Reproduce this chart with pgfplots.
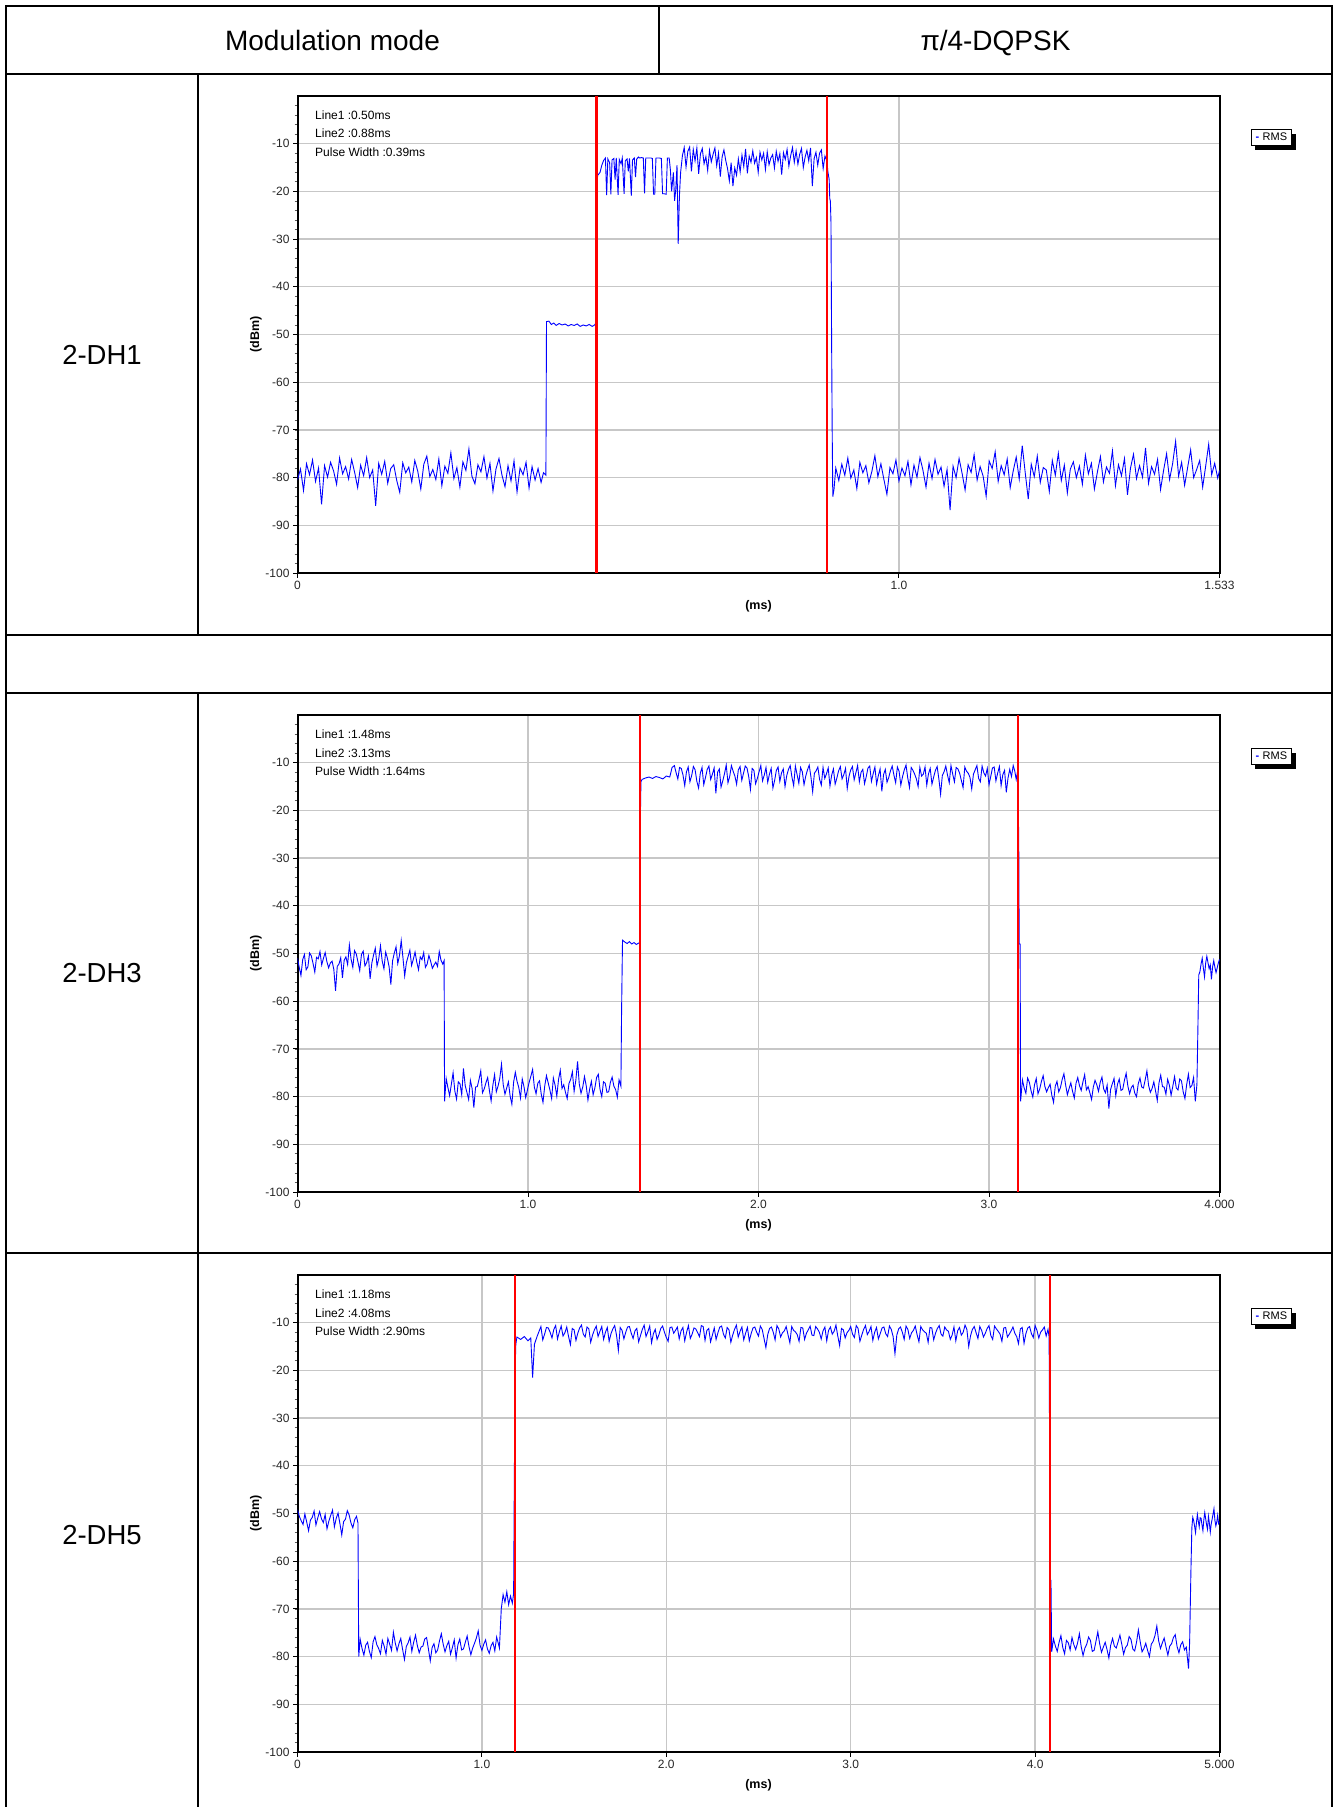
\documentclass[border=0pt]{standalone}
\usepackage{fontspec}
\setmainfont{Liberation Sans}
\usepackage{pgfplots}
\pgfplotsset{compat=1.18}
\usetikzlibrary{shadows}

\pgfplotsset{
  scopeax/.style={
    scale only axis, width=922pt, height=477pt,
    ymin=-100, ymax=0,
    ytick={-100,-90,-80,-70,-60,-50,-40,-30,-20,-10},
    yticklabels={-100,-90,-80,-70,-60,-50,-40,-30,-20,-10},
    minor ytick={-98,-96,...,-2},
    ytick pos=left, xtick pos=bottom,
    tick align=outside,
    major tick length=4.5pt, minor tick length=3pt,
    major tick style={black, line width=1pt},
    minor tick style={black!65, line width=0.8pt},
    grid=major,
    major grid style={draw=black!22, line width=1.3pt},
    axis line style={line width=2pt, black},
    tick label style={font=\fontsize{12}{14}\selectfont, text=black!85},
    xlabel={\textbf{(ms)}}, ylabel={\textbf{(dBm)}},
    label style={font=\fontsize{12.5}{14}\selectfont},
    xlabel style={at={(axis description cs:0.5,-0.0695)}, anchor=center},
    ylabel style={at={(axis description cs:-0.0452,0.5)}, anchor=center},
    legend style={at={(axis description cs:1,1)}, anchor=north west,
      xshift=31pt, yshift=-33pt, draw=black, line width=1pt, fill=white,
      font=\fontsize{11}{12}\selectfont, inner xsep=2.5pt, inner ysep=1.5pt,
      drop shadow={shadow xshift=4pt, shadow yshift=-4pt, fill=black, opacity=1},
      cells={anchor=west},
      /tikz/every odd column/.append style={column sep=0pt}},
    legend image code/.code={},
  },
  trace/.style={blue, line width=0.9pt, mark=none},
  marker/.style={red, line width=2.2pt, mark=none, forget plot},
}

\newcommand{\rmsentry}{\addlegendentry{\textcolor{blue}{\textbf{-}}\hspace{3.5pt}RMS}}

\newcommand{\ann}[3]{%
  \node[anchor=west, inner sep=0pt, font=\fontsize{12}{14}\selectfont] at (axis description cs:0,1) [xshift=17.5pt, yshift=-19pt] {#1};
  \node[anchor=west, inner sep=0pt, font=\fontsize{12}{14}\selectfont] at (axis description cs:0,1) [xshift=17.5pt, yshift=-37.7pt] {#2};
  \node[anchor=west, inner sep=0pt, font=\fontsize{12}{14}\selectfont] at (axis description cs:0,1) [xshift=17.5pt, yshift=-56.3pt] {#3};
}

\begin{document}
\begin{tikzpicture}
\path[use as bounding box] (0pt,0pt) rectangle (1338pt,-1807pt);

% ---------- table ----------
\begin{scope}[line cap=rect]
\draw[line width=2.3pt] (6pt,-6pt) -- (1332pt,-6pt);
\draw[line width=2.3pt] (6pt,-74pt) -- (1332pt,-74pt);
\draw[line width=2.3pt] (6pt,-635pt) -- (1332pt,-635pt);
\draw[line width=2.3pt] (6pt,-693pt) -- (1332pt,-693pt);
\draw[line width=2.3pt] (6pt,-1253pt) -- (1332pt,-1253pt);
\draw[line width=1.8pt] (6pt,-6pt) -- (6pt,-1807pt);
\draw[line width=1.8pt] (1332pt,-6pt) -- (1332pt,-1807pt);
\draw[line width=1.5pt] (659pt,-6pt) -- (659pt,-74pt);
\draw[line width=1.8pt] (198pt,-74pt) -- (198pt,-635pt);
\draw[line width=1.8pt] (198pt,-693pt) -- (198pt,-1807pt);
\end{scope}

\node[anchor=base, font=\fontsize{28}{30}\selectfont] at (332.5pt,-50pt) {Modulation mode};
\node[anchor=base, font=\fontsize{28}{30}\selectfont] at (995.5pt,-50pt) {π/4-DQPSK};
\node[font=\fontsize{27.5}{30}\selectfont] at (102pt,-354.5pt) {2-DH1};
\node[font=\fontsize{27.5}{30}\selectfont] at (102pt,-973pt) {2-DH3};
\node[font=\fontsize{27.5}{30}\selectfont] at (102pt,-1535pt) {2-DH5};

% ---------- 2-DH1 ----------
\begin{axis}[scopeax, at={(297.5pt,-573pt)}, anchor=south west,
  xmin=0, xmax=1.533, xtick={0,1,1.533}, xticklabels={0,1.0,1.533}]
\addplot[trace] coordinates {
(0.000,-80.5) (0.005,-78.2) (0.010,-82.7) (0.015,-77.1) (0.020,-79.4) (0.025,-76.3) (0.030,-80.8) (0.035,-78.0) (0.040,-85.6) (0.045,-77.5)
(0.050,-79.9) (0.055,-76.8) (0.060,-78.6) (0.065,-81.4) (0.070,-75.9) (0.075,-79.2) (0.080,-77.7) (0.085,-80.3) (0.090,-76.2) (0.095,-78.9)
(0.100,-82.1) (0.105,-77.4) (0.110,-79.6) (0.115,-75.8) (0.120,-80.0) (0.125,-78.4) (0.130,-85.9) (0.135,-77.0) (0.140,-79.3) (0.145,-76.6)
(0.150,-81.2) (0.155,-78.1) (0.160,-77.3) (0.165,-80.6) (0.170,-83.1) (0.175,-76.9) (0.180,-79.0) (0.185,-77.8) (0.190,-80.9) (0.195,-76.4)
(0.200,-78.7) (0.205,-82.4) (0.210,-77.2) (0.215,-75.5) (0.220,-79.8) (0.225,-78.3) (0.230,-80.4) (0.235,-76.1) (0.240,-81.7) (0.245,-77.6)
(0.250,-79.1) (0.255,-74.8) (0.260,-80.2) (0.265,-77.9) (0.270,-82.0) (0.275,-76.7) (0.280,-78.5) (0.285,-74.0) (0.290,-79.7) (0.295,-81.3)
(0.300,-77.3) (0.305,-78.8) (0.310,-75.6) (0.315,-80.1) (0.320,-77.0) (0.325,-82.8) (0.330,-78.2) (0.335,-76.0) (0.340,-79.5) (0.345,-81.9)
(0.350,-77.5) (0.355,-80.7) (0.360,-76.5) (0.365,-83.0) (0.370,-78.0) (0.375,-79.4) (0.380,-76.8) (0.385,-82.2) (0.390,-77.7) (0.395,-80.5)
(0.400,-78.1) (0.405,-81.0) (0.409,-79.0) (0.413,-79.5) (0.414,-47.3)
(0.418,-47.2) (0.422,-47.9) (0.426,-47.6) (0.430,-48.1) (0.435,-47.7) (0.440,-48.0) (0.445,-47.8) (0.450,-48.2) (0.455,-47.9) (0.460,-48.1)
(0.465,-47.8) (0.470,-48.3) (0.475,-48.0) (0.480,-48.2) (0.485,-47.9) (0.490,-48.3) (0.494,-48.0) (0.496,-47.6) (0.497,-35.0) (0.498,-20.0) (0.499,-16.5)
(0.500,-16.5) (0.503,-16.0) (0.506,-14.5) (0.509,-13.5) (0.512,-13.0) (0.514,-20.8) (0.516,-13.2) (0.519,-14.0) (0.521,-20.6) (0.523,-13.4)
(0.526,-13.1) (0.528,-17.5) (0.530,-13.0) (0.533,-20.7) (0.535,-13.3) (0.538,-14.2) (0.540,-13.0) (0.543,-20.5) (0.545,-13.6) (0.548,-13.2)
(0.550,-15.8) (0.552,-13.1) (0.555,-20.9) (0.557,-13.4) (0.560,-13.0) (0.562,-17.0) (0.564,-13.2) (0.567,-12.8) (0.569,-13.0) (0.572,-12.9)
(0.575,-13.0) (0.577,-20.4) (0.579,-13.0) (0.582,-13.0) (0.585,-13.0) (0.588,-13.0) (0.590,-13.1) (0.592,-20.6) (0.594,-20.6) (0.596,-13.0)
(0.599,-13.0) (0.602,-13.0) (0.605,-13.1) (0.607,-20.5) (0.610,-20.5) (0.613,-20.6) (0.615,-13.0) (0.618,-13.0) (0.620,-15.5) (0.622,-20.0)
(0.625,-16.0) (0.627,-22.0) (0.629,-19.5) (0.631,-14.5) (0.633,-31.0) (0.635,-21.0) (0.637,-16.0)
(0.640,-12.5) (0.643,-10.8) (0.646,-14.9) (0.649,-11.6) (0.652,-10.7) (0.655,-15.8) (0.658,-11.2) (0.661,-13.6) (0.664,-10.9) (0.667,-16.3)
(0.670,-12.1) (0.673,-11.0) (0.676,-14.2) (0.679,-12.7) (0.682,-15.6) (0.685,-11.4) (0.688,-13.8) (0.691,-12.2) (0.694,-10.9) (0.697,-14.6)
(0.700,-12.0) (0.703,-16.9) (0.706,-12.8) (0.709,-11.3) (0.712,-13.5) (0.715,-15.2) (0.718,-17.8) (0.721,-14.0) (0.724,-18.9) (0.727,-15.1)
(0.730,-16.6) (0.733,-13.2) (0.736,-15.9) (0.739,-12.4) (0.742,-14.8) (0.745,-11.1) (0.748,-16.2) (0.751,-12.6) (0.754,-13.9) (0.757,-11.5)
(0.760,-14.1) (0.763,-12.9) (0.766,-16.0) (0.769,-11.8) (0.772,-13.4) (0.775,-12.0) (0.778,-15.4) (0.781,-11.7) (0.784,-14.4) (0.787,-13.0)
(0.790,-12.3) (0.793,-15.1) (0.796,-11.6) (0.799,-13.7) (0.802,-12.1) (0.805,-16.5) (0.808,-11.9) (0.811,-13.3) (0.814,-11.2) (0.817,-14.7)
(0.820,-12.5) (0.823,-10.8) (0.826,-13.9) (0.829,-11.5) (0.832,-14.3) (0.835,-12.2) (0.838,-11.0) (0.841,-15.0) (0.844,-12.8) (0.847,-11.4)
(0.850,-13.6) (0.853,-10.9) (0.856,-18.9) (0.859,-13.1) (0.862,-11.8) (0.865,-14.5) (0.868,-12.0) (0.871,-11.3) (0.874,-15.2) (0.877,-12.6)
(0.880,-13.5) (0.882,-16.0) (0.884,-17.5) (0.885,-21.5) (0.886,-22.0) (0.887,-26.5) (0.888,-50.0) (0.889,-70.0) (0.890,-84.0)
(0.892,-82.5) (0.895,-78.0) (0.900,-80.6) (0.905,-77.2) (0.910,-79.5) (0.915,-75.9) (0.920,-80.1) (0.925,-78.4) (0.930,-82.3) (0.935,-76.8)
(0.940,-79.0) (0.945,-77.5) (0.950,-81.1) (0.955,-78.7) (0.960,-75.4) (0.965,-79.8) (0.970,-77.1) (0.975,-80.4) (0.980,-83.5) (0.985,-77.9)
(0.990,-79.2) (0.995,-76.3) (1.000,-80.7) (1.005,-78.0) (1.010,-79.6) (1.015,-76.6) (1.020,-81.5) (1.025,-77.4) (1.030,-79.9) (1.035,-75.8)
(1.040,-78.5) (1.045,-82.0) (1.050,-77.0) (1.055,-80.2) (1.060,-76.2) (1.065,-79.3) (1.070,-77.8) (1.075,-81.8) (1.080,-78.3) (1.085,-86.8)
(1.090,-77.6) (1.095,-80.0) (1.100,-76.0) (1.105,-79.1) (1.110,-82.6) (1.115,-77.3) (1.120,-78.9) (1.125,-75.2) (1.130,-80.5) (1.135,-77.7)
(1.140,-79.7) (1.145,-83.9) (1.150,-76.5) (1.155,-78.1) (1.160,-74.6) (1.165,-80.8) (1.170,-77.5) (1.175,-79.4) (1.180,-76.1) (1.185,-82.1)
(1.190,-78.6) (1.195,-75.7) (1.200,-80.3) (1.205,-73.3) (1.210,-79.0) (1.215,-84.5) (1.220,-77.2) (1.225,-79.8) (1.230,-75.5) (1.235,-81.0)
(1.240,-77.9) (1.245,-78.4) (1.250,-82.9) (1.255,-76.4) (1.260,-79.5) (1.265,-74.9) (1.270,-80.6) (1.275,-77.4) (1.280,-83.2) (1.285,-78.2)
(1.290,-76.7) (1.295,-80.0) (1.300,-77.6) (1.305,-81.4) (1.310,-75.3) (1.315,-79.2) (1.320,-77.0) (1.325,-82.4) (1.330,-78.8) (1.335,-75.6)
(1.340,-80.9) (1.345,-77.8) (1.350,-79.1) (1.355,-74.4) (1.360,-81.7) (1.365,-77.3) (1.370,-79.6) (1.375,-76.0) (1.380,-83.6) (1.385,-78.0)
(1.390,-75.1) (1.395,-80.2) (1.400,-77.5) (1.405,-79.9) (1.410,-73.8) (1.415,-81.2) (1.420,-77.7) (1.425,-79.3) (1.430,-76.2) (1.435,-82.5)
(1.440,-78.5) (1.445,-75.0) (1.450,-80.4) (1.455,-77.1) (1.460,-72.4) (1.465,-79.7) (1.470,-76.8) (1.475,-81.6) (1.480,-77.9) (1.485,-74.2)
(1.490,-80.0) (1.495,-78.3) (1.500,-76.4) (1.505,-82.0) (1.510,-77.6) (1.515,-73.0) (1.520,-79.4) (1.525,-77.0) (1.530,-80.1) (1.533,-78.5)
};
\rmsentry
\addplot[marker] coordinates {(0.497,-100) (0.497,0)};
\addplot[marker] coordinates {(0.881,-100) (0.881,0)};
\ann{Line1 :0.50ms}{Line2 :0.88ms}{Pulse Width :0.39ms}
\end{axis}

% ---------- 2-DH3 ----------
\begin{axis}[scopeax, at={(297.5pt,-1192pt)}, anchor=south west,
  xmin=0, xmax=4, xtick={0,1,2,3,4}, xticklabels={0,1.0,2.0,3.0,4.000}]
\addplot[trace] coordinates {
(0.000,-51.0) (0.0075,-52.9) (0.015,-54.6) (0.0225,-51.3) (0.030,-50.2) (0.0375,-53.4) (0.045,-52.8) (0.0525,-49.9) (0.060,-50.5) (0.0675,-52.1)
(0.075,-53.9) (0.0825,-50.8) (0.090,-51.1) (0.0975,-49.6) (0.105,-52.4) (0.1125,-51.0) (0.120,-49.8) (0.1275,-51.7) (0.135,-53.0) (0.1425,-52.0)
(0.150,-51.6) (0.1575,-53.3) (0.165,-57.8) (0.1725,-52.7) (0.180,-52.2) (0.1875,-50.9) (0.195,-55.1) (0.2025,-51.4) (0.210,-50.7) (0.2175,-52.3)
(0.225,-48.2) (0.2325,-51.2) (0.240,-52.9) (0.2475,-49.4) (0.255,-50.1) (0.2625,-51.8) (0.270,-53.6) (0.2775,-50.2) (0.285,-49.5) (0.2925,-52.6)
(0.300,-51.9) (0.3075,-50.5) (0.315,-55.3) (0.3225,-52.0) (0.330,-50.3) (0.3375,-48.9) (0.345,-52.6) (0.3525,-51.1) (0.360,-48.4) (0.3675,-51.6)
(0.375,-53.2) (0.3825,-49.7) (0.390,-51.0) (0.3975,-52.8) (0.405,-56.5) (0.4125,-51.5) (0.420,-49.9) (0.4275,-48.6) (0.435,-52.1) (0.4425,-50.4)
(0.450,-47.3) (0.4575,-50.9) (0.465,-54.7) (0.4725,-51.9) (0.480,-50.6) (0.4875,-49.3) (0.495,-52.5) (0.5025,-51.2) (0.510,-49.7) (0.5175,-51.8)
(0.525,-53.4) (0.5325,-50.7) (0.540,-51.3) (0.5475,-49.8) (0.555,-52.9) (0.5625,-52.2) (0.570,-50.4) (0.5775,-51.6) (0.585,-53.1) (0.5925,-52.4)
(0.600,-51.8) (0.6075,-52.7) (0.615,-49.6) (0.6225,-51.4) (0.630,-52.2) (0.636,-51.5) (0.638,-81.0)
(0.645,-76.2) (0.6525,-78.1) (0.660,-79.8) (0.6675,-77.4) (0.675,-75.0) (0.6825,-78.8) (0.690,-80.5) (0.6975,-76.9) (0.705,-77.3) (0.7125,-79.6)
(0.720,-74.1) (0.7275,-77.7) (0.735,-79.1) (0.7425,-80.6) (0.750,-76.6) (0.7575,-78.3) (0.765,-82.3) (0.7725,-78.0) (0.780,-77.9) (0.7875,-76.4)
(0.795,-74.6) (0.8025,-79.2) (0.810,-78.4) (0.8175,-77.1) (0.825,-76.0) (0.8325,-78.7) (0.840,-80.9) (0.8475,-77.6) (0.855,-75.4) (0.8625,-79.0)
(0.870,-77.8) (0.8775,-76.2) (0.885,-73.2) (0.8925,-77.5) (0.900,-79.5) (0.9075,-78.2) (0.915,-76.9) (0.9225,-79.9) (0.930,-81.6) (0.9375,-77.0)
(0.945,-74.9) (0.9525,-76.8) (0.960,-78.1) (0.9675,-80.3) (0.975,-76.3) (0.9825,-77.9) (0.990,-80.2) (0.9975,-78.6) (1.005,-77.0) (1.0125,-75.7)
(1.020,-74.3) (1.0275,-78.0) (1.035,-79.4) (1.0425,-77.2) (1.050,-76.7) (1.0575,-79.5) (1.065,-81.2) (1.0725,-77.8) (1.080,-75.6) (1.0875,-77.1)
(1.095,-78.6) (1.1025,-80.4) (1.110,-76.1) (1.1175,-77.6) (1.125,-79.9) (1.1325,-76.4) (1.140,-74.5) (1.1475,-78.3) (1.155,-77.5) (1.1625,-79.1)
(1.170,-80.4) (1.1775,-77.3) (1.185,-76.4) (1.1925,-74.8) (1.200,-78.9) (1.2075,-76.6) (1.215,-72.6) (1.2225,-77.4) (1.230,-79.3) (1.2375,-78.0)
(1.245,-75.8) (1.2525,-77.7) (1.260,-80.7) (1.2675,-78.4) (1.275,-76.8) (1.2825,-79.6) (1.290,-78.2) (1.2975,-76.0) (1.305,-75.3) (1.3125,-78.5)
(1.320,-80.0) (1.3275,-76.9) (1.335,-77.2) (1.3425,-79.1) (1.350,-79.0) (1.3575,-77.0) (1.365,-75.9) (1.3725,-77.8) (1.380,-78.5) (1.3875,-80.1)
(1.395,-76.5) (1.403,-77.8) (1.406,-62.0) (1.410,-47.2)
(1.420,-47.6) (1.430,-47.9) (1.440,-47.5) (1.450,-48.0) (1.460,-47.7) (1.470,-48.1) (1.480,-47.8) (1.484,-47.9) (1.486,-33.0) (1.488,-20.0)
(1.490,-14.0) (1.495,-13.5) (1.510,-13.2) (1.525,-13.0) (1.540,-13.3) (1.555,-12.9) (1.570,-13.1) (1.585,-13.4) (1.600,-12.8) (1.615,-13.0) (1.625,-11.0)
(1.635,-10.6) (1.6425,-12.1) (1.650,-13.4) (1.6575,-11.0) (1.665,-11.2) (1.6725,-12.6) (1.680,-14.8) (1.6875,-11.9) (1.695,-10.9) (1.7025,-14.0)
(1.710,-12.7) (1.7175,-10.8) (1.725,-11.5) (1.7325,-13.9) (1.740,-15.3) (1.7475,-12.2) (1.755,-11.0) (1.7625,-14.6) (1.770,-13.1) (1.7775,-11.4)
(1.785,-10.7) (1.7925,-13.5) (1.800,-12.4) (1.8075,-11.1) (1.815,-16.4) (1.8225,-12.0) (1.830,-11.3) (1.8375,-15.1) (1.845,-13.8) (1.8525,-12.3)
(1.860,-10.5) (1.8675,-14.2) (1.875,-12.9) (1.8825,-10.6) (1.890,-11.8) (1.8975,-12.8) (1.905,-14.5) (1.9125,-11.5) (1.920,-10.8) (1.9275,-13.7)
(1.935,-12.2) (1.9425,-10.7) (1.950,-11.1) (1.9575,-12.9) (1.965,-15.6) (1.9725,-11.2) (1.980,-11.6) (1.9875,-14.4) (1.995,-13.3) (2.0025,-11.9)
(2.010,-10.6) (2.0175,-13.8) (2.025,-12.6) (2.0325,-11.0) (2.040,-14.1) (2.0475,-12.4) (2.055,-11.2) (2.0625,-15.3) (2.070,-13.7) (2.0775,-11.6)
(2.085,-10.9) (2.0925,-13.9) (2.100,-12.1) (2.1075,-11.3) (2.115,-15.0) (2.1225,-12.7) (2.130,-11.4) (2.1375,-10.6) (2.145,-13.0) (2.1525,-14.8)
(2.160,-10.7) (2.1675,-12.5) (2.175,-14.3) (2.1825,-11.0) (2.190,-11.9) (2.1975,-14.6) (2.205,-12.8) (2.2125,-11.5) (2.220,-10.5) (2.2275,-13.0)
(2.235,-16.1) (2.2425,-12.2) (2.250,-11.7) (2.2575,-10.9) (2.265,-13.5) (2.2725,-14.7) (2.280,-11.0) (2.2875,-13.3) (2.295,-12.3) (2.3025,-11.1)
(2.310,-14.9) (2.3175,-12.6) (2.325,-11.3) (2.3325,-14.5) (2.340,-13.2) (2.3475,-11.7) (2.355,-10.8) (2.3625,-13.4) (2.370,-12.5) (2.3775,-11.2)
(2.385,-15.4) (2.3925,-12.9) (2.400,-11.5) (2.4075,-10.8) (2.415,-13.6) (2.4225,-12.1) (2.430,-10.6) (2.4375,-14.0) (2.445,-12.0) (2.4525,-11.4)
(2.460,-14.4) (2.4675,-12.9) (2.475,-11.1) (2.4825,-10.7) (2.490,-13.9) (2.4975,-12.3) (2.505,-10.9) (2.5125,-14.5) (2.520,-12.7) (2.5275,-11.3)
(2.535,-16.0) (2.5425,-12.5) (2.550,-11.4) (2.5575,-14.1) (2.565,-13.1) (2.5725,-11.7) (2.580,-10.7) (2.5875,-12.6) (2.595,-14.2) (2.6025,-10.9)
(2.610,-11.8) (2.6175,-14.7) (2.625,-12.9) (2.6325,-11.5) (2.640,-10.5) (2.6475,-13.2) (2.655,-15.2) (2.6625,-11.0) (2.670,-11.6) (2.6775,-12.4)
(2.685,-13.4) (2.6925,-15.0) (2.700,-11.0) (2.7075,-12.8) (2.715,-12.4) (2.7225,-10.9) (2.730,-14.7) (2.7375,-12.3) (2.745,-11.2) (2.7525,-14.5)
(2.760,-13.0) (2.7675,-11.6) (2.775,-10.8) (2.7825,-13.4) (2.790,-16.6) (2.7975,-12.7) (2.805,-11.9) (2.8125,-10.7) (2.820,-12.6) (2.8275,-14.2)
(2.835,-10.6) (2.8425,-12.4) (2.850,-14.0) (2.8575,-11.0) (2.865,-11.3) (2.8725,-12.2) (2.880,-13.7) (2.8875,-15.2) (2.895,-10.9) (2.9025,-11.8)
(2.910,-12.2) (2.9175,-13.1) (2.925,-15.5) (2.9325,-12.4) (2.940,-11.5) (2.9475,-10.6) (2.955,-13.3) (2.9625,-14.0) (2.970,-10.7) (2.9775,-12.1)
(2.985,-12.8) (2.9925,-11.2) (3.000,-14.6) (3.0075,-12.9) (3.015,-11.1) (3.0225,-10.9) (3.030,-13.8) (3.0375,-12.2) (3.045,-10.8) (3.0525,-14.8)
(3.060,-12.5) (3.0675,-11.6) (3.075,-16.2) (3.0825,-13.2) (3.090,-11.4) (3.0975,-12.9) (3.105,-10.6) (3.1115,-11.7) (3.118,-13.5)
(3.124,-11.8) (3.127,-20.0) (3.129,-26.0) (3.131,-48.0) (3.135,-48.0) (3.137,-81.0)
(3.145,-76.5) (3.1525,-78.2) (3.160,-79.3) (3.1675,-76.1) (3.175,-77.0) (3.1825,-78.8) (3.190,-80.1) (3.1975,-77.5) (3.205,-76.2) (3.2125,-79.4)
(3.220,-78.4) (3.2275,-76.8) (3.235,-75.6) (3.2425,-77.9) (3.250,-79.0) (3.2575,-78.1) (3.265,-77.4) (3.2725,-79.7) (3.280,-81.2) (3.2875,-77.8)
(3.295,-76.8) (3.3025,-79.0) (3.310,-78.1) (3.3175,-76.4) (3.325,-75.2) (3.3325,-77.6) (3.340,-79.6) (3.3475,-78.3) (3.355,-77.1) (3.3625,-78.9)
(3.370,-80.3) (3.3775,-77.2) (3.385,-76.0) (3.3925,-77.7) (3.400,-78.7) (3.4075,-76.9) (3.415,-75.4) (3.4225,-78.6) (3.430,-77.9) (3.4375,-79.2)
(3.445,-80.6) (3.4525,-78.0) (3.460,-76.6) (3.4675,-77.5) (3.475,-78.9) (3.4825,-77.0) (3.490,-75.9) (3.4975,-78.4) (3.505,-79.2) (3.5125,-77.6)
(3.520,-82.5) (3.5275,-78.5) (3.535,-77.3) (3.5425,-76.2) (3.550,-79.8) (3.5575,-77.4) (3.565,-76.3) (3.5725,-78.7) (3.580,-78.5) (3.5875,-76.6)
(3.595,-75.1) (3.6025,-77.8) (3.610,-79.4) (3.6175,-78.1) (3.625,-77.6) (3.6325,-79.3) (3.640,-80.0) (3.6475,-77.3) (3.655,-76.1) (3.6625,-78.0)
(3.670,-78.2) (3.6775,-76.5) (3.685,-74.6) (3.6925,-77.7) (3.700,-79.1) (3.7075,-78.3) (3.715,-76.9) (3.7225,-78.8) (3.730,-80.8) (3.7375,-77.1)
(3.745,-75.5) (3.7525,-77.9) (3.760,-78.0) (3.7675,-79.5) (3.775,-76.4) (3.7825,-77.6) (3.790,-79.7) (3.7975,-77.8) (3.805,-75.8) (3.8125,-78.2)
(3.820,-78.6) (3.8275,-76.3) (3.835,-76.7) (3.8425,-79.0) (3.850,-80.4) (3.8575,-77.5) (3.865,-75.3) (3.8725,-78.1) (3.880,-77.7) (3.8875,-76.0)
(3.895,-81.0) (3.902,-77.5) (3.906,-66.5) (3.910,-54.5)
(3.915,-53.8) (3.920,-52.2) (3.925,-51.0) (3.930,-53.1) (3.935,-54.9) (3.940,-52.0) (3.945,-50.6) (3.950,-51.9) (3.955,-53.2) (3.960,-52.4)
(3.965,-55.4) (3.970,-52.8) (3.975,-51.5) (3.980,-52.9) (3.985,-54.0) (3.990,-53.0) (3.995,-52.0) (4.000,-51.2)
};
\rmsentry
\addplot[marker] coordinates {(1.485,-100) (1.485,0)};
\addplot[marker] coordinates {(3.125,-100) (3.125,0)};
\ann{Line1 :1.48ms}{Line2 :3.13ms}{Pulse Width :1.64ms}
\end{axis}

% ---------- 2-DH5 ----------
\begin{axis}[scopeax, at={(297.5pt,-1752pt)}, anchor=south west,
  xmin=0, xmax=5, xtick={0,1,2,3,4,5}, xticklabels={0,1.0,2.0,3.0,4.0,5.000}]
\addplot[trace] coordinates {
(0.000,-49.2) (0.010,-50.6) (0.020,-51.5) (0.030,-52.3) (0.040,-50.1) (0.050,-51.8) (0.060,-53.6) (0.070,-51.4) (0.080,-50.8) (0.090,-49.5)
(0.100,-52.4) (0.110,-50.9) (0.120,-49.6) (0.130,-51.1) (0.140,-51.9) (0.150,-50.2) (0.160,-53.2) (0.170,-51.6) (0.180,-50.4) (0.190,-49.3)
(0.200,-52.8) (0.210,-51.0) (0.220,-49.9) (0.230,-52.1) (0.240,-54.5) (0.250,-51.7) (0.260,-51.2) (0.270,-49.4) (0.280,-50.3) (0.290,-52.0)
(0.300,-53.0) (0.310,-51.3) (0.320,-50.6) (0.328,-52.0) (0.332,-80.0)
(0.340,-76.4) (0.350,-78.3) (0.360,-79.7) (0.370,-77.6) (0.380,-77.0) (0.390,-78.9) (0.400,-80.2) (0.410,-76.9) (0.420,-75.8) (0.430,-77.5)
(0.440,-78.3) (0.450,-79.4) (0.460,-76.6) (0.470,-77.8) (0.480,-79.5) (0.490,-76.2) (0.500,-77.4) (0.510,-78.7) (0.520,-74.9) (0.530,-77.1)
(0.540,-78.8) (0.550,-77.3) (0.560,-76.2) (0.570,-78.5) (0.580,-80.6) (0.590,-77.9) (0.600,-77.1) (0.610,-75.9) (0.620,-78.9) (0.630,-77.0)
(0.640,-75.5) (0.650,-77.7) (0.660,-79.2) (0.670,-78.0) (0.680,-77.8) (0.690,-76.3) (0.700,-76.0) (0.710,-78.4) (0.720,-80.9) (0.730,-78.1)
(0.740,-77.3) (0.750,-79.2) (0.760,-78.6) (0.770,-76.7) (0.780,-75.2) (0.790,-77.4) (0.800,-79.0) (0.810,-77.7) (0.820,-76.8) (0.830,-79.5)
(0.840,-78.1) (0.850,-76.5) (0.860,-80.3) (0.870,-77.5) (0.880,-76.3) (0.890,-78.6) (0.900,-78.4) (0.910,-77.0) (0.920,-75.7) (0.930,-77.9)
(0.940,-79.6) (0.950,-78.2) (0.960,-77.2) (0.970,-76.1) (0.980,-74.6) (0.990,-77.6) (1.000,-78.7) (1.010,-77.4) (1.020,-76.5) (1.030,-78.4)
(1.040,-79.3) (1.050,-77.7) (1.060,-77.0) (1.070,-78.8) (1.080,-75.9) (1.088,-77.1) (1.095,-78.2) (1.105,-70.0)
(1.115,-67.0) (1.125,-68.6) (1.135,-66.4) (1.145,-69.1) (1.155,-67.3) (1.165,-68.8) (1.172,-66.8) (1.176,-42.0) (1.180,-20.0) (1.184,-14.5)
(1.190,-13.0) (1.210,-13.5) (1.230,-12.9) (1.250,-13.8) (1.265,-13.2) (1.275,-21.5) (1.285,-14.5) (1.300,-12.8)
(1.320,-10.8) (1.330,-13.6) (1.340,-12.4) (1.350,-11.0) (1.360,-11.1) (1.370,-12.0) (1.380,-13.2) (1.390,-11.4) (1.400,-10.6) (1.410,-13.4)
(1.420,-11.9) (1.430,-10.7) (1.440,-12.8) (1.450,-12.1) (1.460,-10.9) (1.470,-12.9) (1.480,-14.6) (1.490,-11.2) (1.500,-11.5) (1.510,-13.7)
(1.520,-12.2) (1.530,-11.1) (1.540,-10.5) (1.550,-12.4) (1.560,-13.0) (1.570,-10.9) (1.580,-11.3) (1.590,-14.1) (1.600,-12.6) (1.610,-11.5)
(1.620,-10.7) (1.630,-12.9) (1.640,-11.8) (1.650,-10.8) (1.660,-13.5) (1.670,-12.0) (1.680,-11.0) (1.690,-13.9) (1.700,-12.3) (1.710,-11.3)
(1.720,-10.6) (1.730,-12.6) (1.740,-15.8) (1.750,-11.0) (1.760,-11.6) (1.770,-13.4) (1.780,-12.0) (1.790,-10.9) (1.800,-10.8) (1.810,-12.2)
(1.820,-13.3) (1.830,-11.7) (1.840,-11.2) (1.850,-14.0) (1.860,-12.7) (1.870,-11.4) (1.880,-10.5) (1.890,-12.9) (1.900,-11.9) (1.910,-10.7)
(1.920,-14.2) (1.930,-12.3) (1.940,-11.4) (1.950,-13.5) (1.960,-12.5) (1.970,-11.2) (1.980,-10.7) (1.990,-12.0) (2.000,-13.1) (2.010,-13.9)
(2.020,-11.0) (2.030,-10.9) (2.040,-12.2) (2.050,-11.6) (2.060,-10.9) (2.070,-13.4) (2.080,-11.7) (2.090,-11.0) (2.100,-13.8) (2.110,-12.0)
(2.120,-10.6) (2.130,-13.3) (2.140,-12.4) (2.150,-11.1) (2.160,-11.3) (2.170,-12.1) (2.180,-12.9) (2.190,-10.6) (2.200,-10.8) (2.210,-13.7)
(2.220,-11.6) (2.230,-11.2) (2.240,-14.0) (2.250,-12.6) (2.260,-11.1) (2.270,-13.5) (2.280,-12.1) (2.290,-10.9) (2.300,-10.7) (2.310,-12.4)
(2.320,-13.2) (2.330,-11.0) (2.340,-11.5) (2.350,-14.1) (2.360,-12.6) (2.370,-11.4) (2.380,-10.5) (2.390,-13.0) (2.400,-11.8) (2.410,-10.9)
(2.420,-13.6) (2.430,-12.2) (2.440,-11.0) (2.450,-13.8) (2.460,-12.3) (2.470,-11.1) (2.480,-10.9) (2.490,-12.0) (2.500,-12.8) (2.510,-10.7)
(2.520,-11.4) (2.530,-13.3) (2.540,-15.2) (2.550,-12.5) (2.560,-11.2) (2.570,-10.9) (2.580,-12.0) (2.590,-13.6) (2.600,-10.6) (2.610,-11.3)
(2.620,-13.0) (2.630,-12.1) (2.640,-11.7) (2.650,-10.8) (2.660,-12.5) (2.670,-14.2) (2.680,-10.8) (2.690,-11.6) (2.700,-11.9) (2.710,-12.5)
(2.720,-13.9) (2.730,-11.0) (2.740,-11.1) (2.750,-13.5) (2.760,-12.2) (2.770,-11.5) (2.780,-10.7) (2.790,-12.6) (2.800,-12.7) (2.810,-10.8)
(2.820,-11.3) (2.830,-12.0) (2.840,-13.4) (2.850,-11.7) (2.860,-10.9) (2.870,-13.8) (2.880,-11.6) (2.890,-10.9) (2.900,-12.4) (2.910,-11.8)
(2.920,-10.5) (2.930,-12.8) (2.940,-14.8) (2.950,-11.2) (2.960,-11.5) (2.970,-13.2) (2.980,-12.1) (2.990,-11.6) (3.000,-10.8) (3.010,-12.4)
(3.020,-13.1) (3.030,-10.6) (3.040,-11.2) (3.050,-13.9) (3.060,-12.6) (3.070,-11.4) (3.080,-10.6) (3.090,-12.5) (3.100,-11.8) (3.110,-10.8)
(3.120,-13.7) (3.130,-12.0) (3.140,-11.0) (3.150,-13.4) (3.160,-12.3) (3.170,-11.1) (3.180,-10.9) (3.190,-12.3) (3.200,-12.9) (3.210,-10.7)
(3.220,-11.4) (3.230,-12.9) (3.240,-16.5) (3.250,-12.6) (3.260,-11.3) (3.270,-10.9) (3.280,-12.0) (3.290,-13.5) (3.300,-10.7) (3.310,-11.4)
(3.320,-13.3) (3.330,-12.1) (3.340,-11.6) (3.350,-10.7) (3.360,-12.5) (3.370,-14.0) (3.380,-10.8) (3.390,-11.5) (3.400,-11.9) (3.410,-12.2)
(3.420,-14.1) (3.430,-11.0) (3.440,-11.1) (3.450,-13.6) (3.460,-12.2) (3.470,-11.2) (3.480,-10.6) (3.490,-12.4) (3.500,-12.8) (3.510,-10.9)
(3.520,-11.5) (3.530,-11.8) (3.540,-13.5) (3.550,-12.6) (3.560,-10.9) (3.570,-13.8) (3.580,-11.7) (3.590,-11.0) (3.600,-12.6) (3.610,-12.0)
(3.620,-10.5) (3.630,-11.4) (3.640,-15.0) (3.650,-12.7) (3.660,-11.4) (3.670,-10.8) (3.680,-12.1) (3.690,-13.3) (3.700,-10.8) (3.710,-11.6)
(3.720,-13.0) (3.730,-12.2) (3.740,-11.2) (3.750,-10.6) (3.760,-12.7) (3.770,-13.5) (3.780,-10.7) (3.790,-11.3) (3.800,-11.8) (3.810,-12.4)
(3.820,-13.9) (3.830,-11.1) (3.840,-11.0) (3.850,-13.0) (3.860,-12.4) (3.870,-11.7) (3.880,-10.9) (3.890,-12.2) (3.900,-12.9) (3.910,-14.4)
(3.920,-11.3) (3.930,-11.0) (3.940,-14.3) (3.950,-12.3) (3.960,-11.1) (3.970,-10.8) (3.980,-12.3) (3.990,-13.1) (4.000,-10.6) (4.010,-11.6)
(4.020,-13.2) (4.030,-12.0) (4.040,-11.5) (4.050,-10.9) (4.060,-12.8) (4.070,-11.4) (4.076,-13.0)
(4.079,-40.0) (4.082,-64.0) (4.086,-64.0) (4.090,-79.0)
(4.100,-76.3) (4.110,-77.8) (4.120,-78.9) (4.130,-77.0) (4.140,-75.6) (4.150,-78.1) (4.160,-79.4) (4.170,-76.6) (4.180,-77.1) (4.190,-78.6)
(4.200,-76.0) (4.210,-77.5) (4.220,-78.5) (4.230,-77.2) (4.240,-75.2) (4.250,-77.9) (4.260,-79.8) (4.270,-78.2) (4.280,-77.4) (4.290,-75.9)
(4.300,-76.6) (4.310,-78.9) (4.320,-78.7) (4.330,-76.8) (4.340,-74.8) (4.350,-77.3) (4.360,-79.1) (4.370,-78.0) (4.380,-77.0) (4.390,-78.5)
(4.400,-80.3) (4.410,-77.6) (4.420,-76.2) (4.430,-77.8) (4.440,-78.2) (4.450,-76.9) (4.460,-75.5) (4.470,-77.4) (4.480,-79.5) (4.490,-78.1)
(4.500,-77.6) (4.510,-75.8) (4.520,-76.4) (4.530,-78.4) (4.540,-78.8) (4.550,-77.0) (4.560,-74.4) (4.570,-76.9) (4.580,-79.0) (4.590,-78.3)
(4.600,-77.2) (4.610,-78.7) (4.620,-80.0) (4.630,-77.4) (4.640,-76.8) (4.650,-75.6) (4.660,-73.6) (4.670,-76.7) (4.680,-78.3) (4.690,-77.1)
(4.700,-76.1) (4.710,-78.0) (4.720,-79.7) (4.730,-77.8) (4.740,-77.3) (4.750,-76.0) (4.760,-75.4) (4.770,-77.9) (4.780,-79.2) (4.790,-77.5)
(4.800,-76.9) (4.810,-78.6) (4.820,-78.0) (4.832,-82.5) (4.838,-77.0) (4.845,-62.0)
(4.850,-53.0) (4.855,-50.8) (4.860,-51.5) (4.865,-52.7) (4.870,-54.0) (4.875,-51.9) (4.880,-50.2) (4.885,-51.6) (4.890,-52.8) (4.895,-50.9)
(4.900,-51.0) (4.905,-52.4) (4.910,-53.6) (4.915,-51.3) (4.920,-49.8) (4.925,-51.1) (4.930,-52.4) (4.935,-53.3) (4.940,-50.6) (4.945,-52.0)
(4.950,-53.9) (4.955,-52.2) (4.960,-51.2) (4.965,-50.1) (4.970,-49.0) (4.975,-51.4) (4.980,-52.6) (4.985,-51.8) (4.990,-50.4) (4.995,-52.1) (5.000,-51.7)
};
\rmsentry
\addplot[marker] coordinates {(1.18,-100) (1.18,0)};
\addplot[marker] coordinates {(4.08,-100) (4.08,0)};
\ann{Line1 :1.18ms}{Line2 :4.08ms}{Pulse Width :2.90ms}
\end{axis}
\end{tikzpicture}
\end{document}
